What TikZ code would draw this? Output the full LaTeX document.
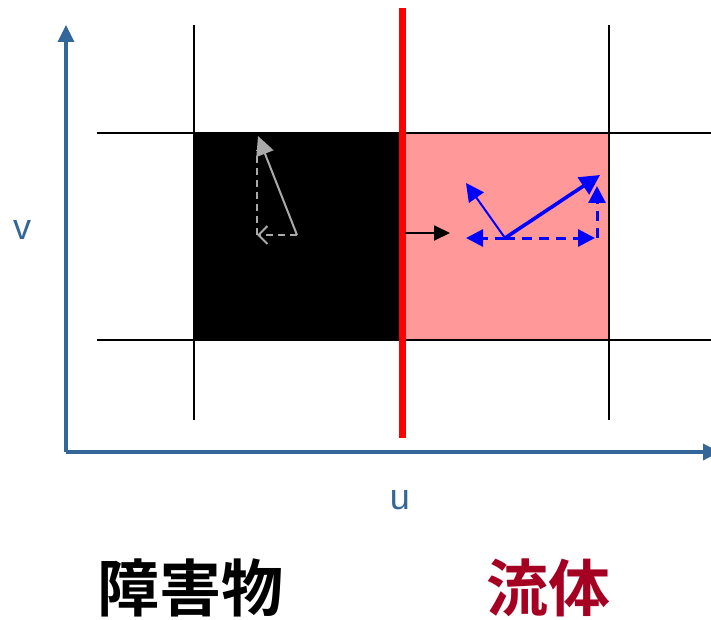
\documentclass[tikz,border=0pt]{standalone}
\usepackage{fontspec}
\setmainfont{Liberation Sans}
\newfontfamily\cjk{Noto Sans CJK JP Bold}
\usetikzlibrary{arrows.meta}
\definecolor{axisblue}{RGB}{51,102,153}
\definecolor{fluidpink}{RGB}{255,153,153}
\definecolor{fluidred}{RGB}{165,0,33}
\definecolor{vecblue}{RGB}{0,0,255}
\definecolor{vecgrey}{RGB}{170,170,170}
\begin{document}
\begin{tikzpicture}[x=1pt,y=-1pt,
  gridline/.style={line width=2.6pt,black},
  axis/.style={line width=3.4pt,axisblue,-{Triangle[length=17pt,width=16pt]}},
  greyvec/.style={line width=2pt,vecgrey,-{Triangle[length=19pt,width=18pt]}},
  greydash/.style={line width=2pt,vecgrey,dash pattern=on 7pt off 5pt,-{Straight Barb[length=9pt,width=18pt,line width=2pt]}},
  bluethin/.style={line width=2pt,vecblue,-{Triangle[length=18pt,width=18pt]}},
  bluethick/.style={line width=3.6pt,vecblue,-{Triangle[length=20pt,width=20pt]}},
  bluedash/.style={line width=3pt,vecblue,dash pattern=on 10pt off 7pt,-{Triangle[length=17pt,width=17pt]}},
  axislabel/.style={text=axisblue,font=\fontsize{36}{36}\selectfont},
  biglabel/.style={font=\cjk\fontsize{62}{62}\selectfont}]
\useasboundingbox (0,0) rectangle (711,620);
% cells
\fill[black] (194,133) rectangle (402,340);
\draw[line width=2.6pt,fill=fluidpink] (402,133) rectangle (609,340);
% grid lines
\coordinate (h1a) at (97,133); \coordinate (h1b) at (711,133);
\coordinate (h2a) at (97,340); \coordinate (h2b) at (711,340);
\coordinate (v1a) at (194,25); \coordinate (v1b) at (194,420);
\coordinate (v2a) at (609,25); \coordinate (v2b) at (609,420);
\draw[gridline] (h1a) -- (h1b);
\draw[gridline] (h2a) -- (h2b);
\draw[gridline] (v1a) -- (v1b);
\draw[gridline] (v2a) -- (v2b);
% axes
\coordinate (O) at (66,452);
\coordinate (ytip) at (66,25);
\coordinate (xtip) at (720,452);
\draw[axis] (O) -- (ytip);
\draw[axis] (O) -- (xtip);
\node[axislabel] (vlab) at (22,230) {v};
\node[axislabel] (ulab) at (400,500) {u};
% red interface
\coordinate (ra) at (402,8); \coordinate (rb) at (402,438);
\draw[red,line width=7pt] (ra) -- (rb);
% grey vectors
\coordinate (g0) at (297,235);
\coordinate (g1) at (257,235);
\coordinate (g2) at (258,136);
\draw[line width=2pt,vecgrey,dash pattern=on 7pt off 5pt] (g1) -- ++(0,-85);
\draw[greydash] (g0) -- (g1);
\draw[greyvec] (g0) -- (g2);
% black small arrow
\coordinate (k0) at (405,233); \coordinate (k1) at (450,233);
\draw[line width=2pt,-{Triangle[length=16pt,width=15pt]}] (k0) -- (k1);
% blue vectors
\coordinate (b0) at (505,238);
\coordinate (bl) at (466,238);
\coordinate (br) at (595,238);
\coordinate (bu) at (597,186);
\coordinate (bt) at (466,183);
\coordinate (bq) at (600,175);
\coordinate (bc) at (597,238);
\draw[bluedash] (b0) -- (bl);
\draw[bluedash] (b0) -- (br);
\draw[bluedash] (bc) -- (bu);
\draw[bluethin] (b0) -- (bt);
\draw[bluethick] (b0) -- (bq);
% labels
\node[biglabel] (obs) at (190,588) {障害物};
\node[biglabel,text=fluidred] (fl) at (548,588) {流体};
\end{tikzpicture}
\end{document}
